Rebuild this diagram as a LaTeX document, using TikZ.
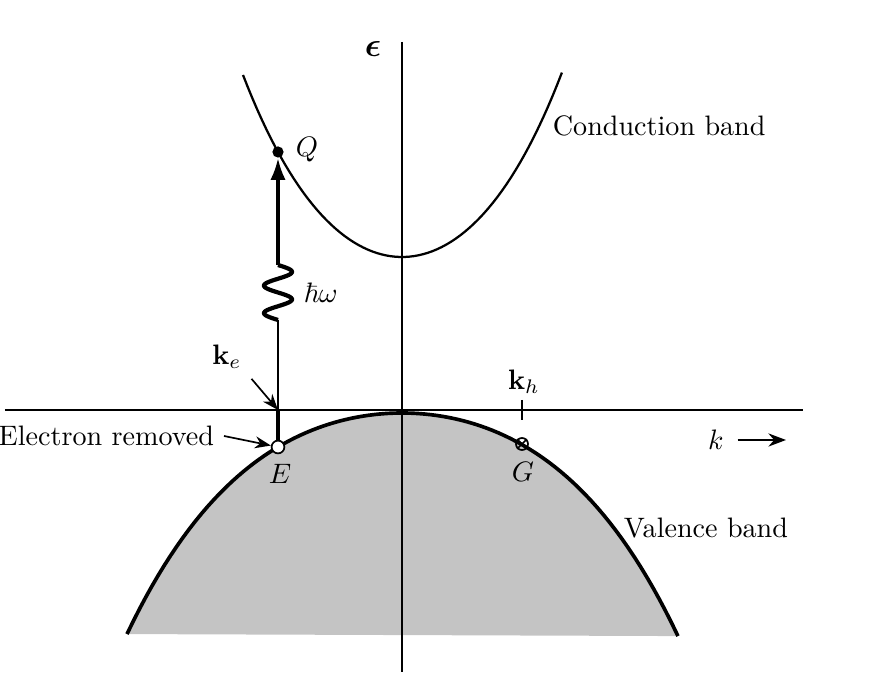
\documentclass[tikz,border=0pt]{standalone}
\usepackage{amsmath,amssymb}
\usetikzlibrary{arrows.meta}
\begin{document}
\begin{tikzpicture}[every node/.style={font=\normalsize}, x=0.0125cm, y=-0.0125cm]
	\useasboundingbox (0,0) rectangle (878,674);
	\fill[black!23] plot[domain=-2.75:2.76, samples=90] ({402+100*\x}, {413+20.29*\x*\x+1.1825*\x*\x*\x*\x}) -- cycle;
	\coordinate (kl) at (5,410);
	\coordinate (kr) at (803,410);
	\coordinate (et) at (402,42);
	\coordinate (eb) at (402,672);
	\draw[line width=0.5pt] (kl) -- (kr);
	\draw[line width=0.5pt] (et) -- (eb);
	\draw[line width=1.3pt] plot[domain=-2.75:2.76, samples=90] ({402+100*\x}, {413+20.29*\x*\x+1.1825*\x*\x*\x*\x});
	\draw[line width=0.8pt] plot[domain=-1.59:1.60, samples=70] ({402+100*\x}, {257-62.52*\x*\x-3.75*\x*\x*\x*\x});
	\node (eps) at (373,49) {\large$\boldsymbol{\epsilon}$};
	\node[anchor=west] (cb) at (543,126) {Conduction band};
	\node[anchor=west] (vb) at (614,528) {Valence band};
	% photon absorbed at k_e
	\node[circle, fill, inner sep=0pt, minimum size=0.14cm] (Q) at (278,152) {};
	\node[anchor=west] (Qlab) at (286,150) {$Q$};
	\node[circle, draw, fill=white, line width=0.6pt, inner sep=0pt, minimum size=0.16cm] (E) at (278,447) {};
	\node (Elab) at (280,474) {$E$};
	\coordinate (ax) at (278,410);
	\coordinate (w1) at (278,320);
	\coordinate (w2) at (278,265);
	\draw[line width=1.3pt] (E.north) -- (ax);
	\draw[line width=0.6pt] (ax) -- (w1);
	\draw[line width=1.5pt] plot[domain=0:720, samples=80, smooth] ({278-14*sin(\x)}, {320-\x/720*55});
	\draw[line width=1.1pt, -{Latex[length=0.27cm, width=0.19cm]}] (w2) -- (Q.south);
	\node[anchor=west] (hw) at (294,293) {$\hbar\omega$};
	\node (ke) at (227,357) {$\mathbf{k}_e$};
	\draw[line width=0.6pt, -{Stealth[length=0.2cm]}] (ke.south east) -- (ax);
	\node[anchor=east] (er) at (224,436) {Electron removed};
	\draw[line width=0.6pt, -{Stealth[length=0.2cm]}] (er.east) -- (E);
	% hole at k_h
	\node[circle, draw, line width=0.6pt, inner sep=0pt, minimum size=0.15cm] (G) at (522,444) {};
	\draw[line width=0.6pt] (G.north west) -- (G.south east) (G.north east) -- (G.south west);
	\node (Glab) at (523,472) {$G$};
	\coordinate (ht) at (522,400);
	\coordinate (hb) at (522,420);
	\draw[line width=0.6pt] (ht) -- (hb);
	\node (kh) at (524,382) {$\mathbf{k}_h$};
	\node (k) at (716,440) {$k$};
	\coordinate (kend) at (786,440);
	\draw[line width=0.6pt, -{Stealth[length=0.22cm]}] (k.east) ++(4,0) -- (kend);
\end{tikzpicture}
\end{document}
